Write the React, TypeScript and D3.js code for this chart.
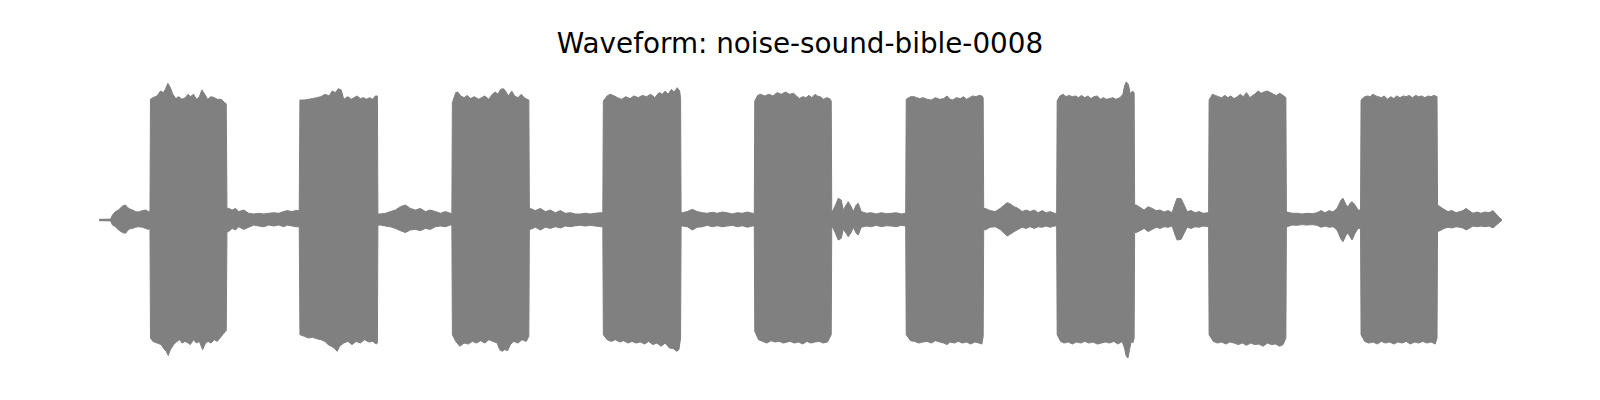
import React from "react";
import * as d3 from "d3";

const chartTitle = "Waveform: noise-sound-bible-0008";

// Amplitude envelope of the recording: [time (s), peak amplitude]
const upperEnvelope: [number, number][] = [
  [0.0, 0.005], [0.11, 0.006], [0.13, 0.036], [0.16, 0.06], [0.19, 0.071], [0.23, 0.1], [0.26, 0.107], [0.28, 0.09], [0.3, 0.08], [0.33, 0.071], [0.36, 0.06], [0.39, 0.057], [0.43, 0.067], [0.46, 0.071], [0.49, 0.06], [0.505, 0.06],
  [0.51, 0.862], [0.534, 0.874], [0.576, 0.886], [0.609, 0.921], [0.638, 0.91], [0.659, 0.933], [0.684, 0.976], [0.709, 0.945], [0.734, 0.898], [0.763, 0.867], [0.792, 0.881], [0.825, 0.862], [0.858, 0.874], [0.887, 0.898], [0.908, 0.881], [0.941, 0.898], [0.97, 0.862], [0.999, 0.881], [1.024, 0.929], [1.053, 0.898], [1.082, 0.862], [1.115, 0.881], [1.149, 0.874], [1.178, 0.862], [1.219, 0.862], [1.252, 0.838], [1.268, 0.83],
  [1.275, 0.083], [1.293, 0.083], [1.327, 0.071], [1.36, 0.083], [1.393, 0.06], [1.443, 0.071], [1.493, 0.048], [1.543, 0.043], [1.593, 0.048], [1.643, 0.043], [1.693, 0.048], [1.743, 0.052], [1.793, 0.048], [1.843, 0.06], [1.877, 0.067], [1.927, 0.06], [1.96, 0.067], [1.998, 0.067],
  [2.005, 0.857], [2.049, 0.857], [2.09, 0.862], [2.132, 0.867], [2.173, 0.874], [2.215, 0.881], [2.256, 0.898], [2.298, 0.886], [2.327, 0.921], [2.36, 0.91], [2.389, 0.938], [2.418, 0.929], [2.443, 0.862], [2.485, 0.881], [2.518, 0.862], [2.547, 0.874], [2.576, 0.886], [2.609, 0.867], [2.642, 0.874], [2.671, 0.862], [2.7, 0.874], [2.734, 0.862], [2.759, 0.886], [2.78, 0.886],
  [2.785, 0.043], [2.81, 0.043], [2.86, 0.048], [2.91, 0.06], [2.96, 0.071], [3.01, 0.095], [3.06, 0.107], [3.11, 0.083], [3.16, 0.071], [3.21, 0.083], [3.26, 0.06], [3.31, 0.071], [3.36, 0.06], [3.41, 0.048], [3.46, 0.06], [3.51, 0.048], [3.525, 0.048],
  [3.53, 0.838], [3.564, 0.91], [3.584, 0.914], [3.613, 0.886], [3.647, 0.874], [3.68, 0.89], [3.709, 0.867], [3.75, 0.881], [3.792, 0.862], [3.821, 0.874], [3.854, 0.886], [3.895, 0.862], [3.929, 0.898], [3.958, 0.914], [3.987, 0.898], [4.012, 0.933], [4.041, 0.938], [4.061, 0.921], [4.09, 0.886], [4.124, 0.921], [4.153, 0.886], [4.186, 0.874], [4.219, 0.898], [4.248, 0.874], [4.277, 0.862], [4.295, 0.857],
  [4.3, 0.083], [4.31, 0.083], [4.36, 0.067], [4.41, 0.083], [4.46, 0.06], [4.51, 0.071], [4.56, 0.052], [4.61, 0.067], [4.66, 0.048], [4.71, 0.052], [4.76, 0.043], [4.81, 0.043], [4.86, 0.048], [4.91, 0.043], [4.96, 0.048], [5.01, 0.052], [5.035, 0.052],
  [5.04, 0.85], [5.078, 0.886], [5.107, 0.898], [5.14, 0.89], [5.182, 0.874], [5.223, 0.862], [5.265, 0.881], [5.306, 0.867], [5.348, 0.886], [5.389, 0.874], [5.431, 0.89], [5.472, 0.881], [5.514, 0.898], [5.555, 0.874], [5.597, 0.91], [5.63, 0.898], [5.659, 0.921], [5.688, 0.898], [5.721, 0.933], [5.75, 0.914], [5.779, 0.945], [5.804, 0.921], [5.813, 0.862],
  [5.818, 0.052], [5.83, 0.052], [5.88, 0.06], [5.93, 0.076], [5.98, 0.06], [6.03, 0.052], [6.08, 0.048], [6.13, 0.055], [6.18, 0.048], [6.23, 0.057], [6.28, 0.052], [6.33, 0.043], [6.38, 0.052], [6.43, 0.048], [6.48, 0.057], [6.53, 0.048], [6.55, 0.048],
  [6.555, 0.85], [6.584, 0.89], [6.613, 0.898], [6.655, 0.886], [6.696, 0.898], [6.738, 0.886], [6.779, 0.91], [6.821, 0.898], [6.862, 0.914], [6.904, 0.898], [6.943, 0.905], [6.972, 0.886], [7.001, 0.867], [7.034, 0.881], [7.068, 0.874], [7.097, 0.89], [7.126, 0.874], [7.159, 0.898], [7.18, 0.886], [7.209, 0.881], [7.242, 0.862], [7.275, 0.874], [7.304, 0.867], [7.32, 0.85],
  [7.325, 0.06], [7.34, 0.071], [7.37, 0.119], [7.39, 0.155], [7.42, 0.143], [7.44, 0.071], [7.47, 0.107], [7.49, 0.131], [7.52, 0.095], [7.54, 0.06], [7.57, 0.107], [7.59, 0.119], [7.62, 0.06], [7.67, 0.048], [7.72, 0.052], [7.77, 0.043], [7.82, 0.052], [7.87, 0.045], [7.92, 0.048], [7.97, 0.052], [8.02, 0.043], [8.065, 0.048],
  [8.07, 0.862], [8.113, 0.881], [8.147, 0.881], [8.176, 0.874], [8.205, 0.867], [8.238, 0.874], [8.279, 0.862], [8.321, 0.857], [8.362, 0.874], [8.404, 0.862], [8.445, 0.867], [8.478, 0.886], [8.508, 0.862], [8.537, 0.857], [8.57, 0.874], [8.611, 0.867], [8.644, 0.881], [8.673, 0.862], [8.703, 0.874], [8.736, 0.886], [8.769, 0.881], [8.798, 0.89], [8.827, 0.886], [8.84, 0.874],
  [8.845, 0.083], [8.86, 0.083], [8.91, 0.067], [8.96, 0.06], [9.01, 0.083], [9.05, 0.107], [9.08, 0.124], [9.11, 0.115], [9.15, 0.095], [9.19, 0.083], [9.23, 0.06], [9.27, 0.071], [9.31, 0.06], [9.35, 0.071], [9.39, 0.052], [9.43, 0.067], [9.47, 0.052], [9.51, 0.06], [9.55, 0.048], [9.575, 0.048],
  [9.58, 0.85], [9.607, 0.886], [9.64, 0.898], [9.669, 0.881], [9.698, 0.89], [9.732, 0.881], [9.765, 0.886], [9.794, 0.874], [9.823, 0.89], [9.856, 0.874], [9.889, 0.886], [9.918, 0.867], [9.947, 0.881], [9.981, 0.886], [10.014, 0.862], [10.043, 0.874], [10.072, 0.862], [10.105, 0.867], [10.138, 0.874], [10.167, 0.862], [10.209, 0.874], [10.238, 0.898], [10.254, 0.957], [10.271, 0.986], [10.292, 0.969], [10.312, 0.898], [10.333, 0.921], [10.35, 0.91],
  [10.355, 0.107], [10.37, 0.107], [10.41, 0.09], [10.45, 0.071], [10.49, 0.095], [10.53, 0.083], [10.57, 0.067], [10.61, 0.071], [10.65, 0.057], [10.69, 0.067], [10.73, 0.052], [10.76, 0.119], [10.78, 0.155], [10.82, 0.152], [10.85, 0.107], [10.88, 0.06], [10.92, 0.067], [10.96, 0.052], [11.0, 0.06], [11.04, 0.048], [11.095, 0.052],
  [11.1, 0.857], [11.134, 0.898], [11.163, 0.89], [11.192, 0.881], [11.225, 0.874], [11.259, 0.89], [11.288, 0.874], [11.317, 0.886], [11.35, 0.867], [11.383, 0.881], [11.412, 0.898], [11.441, 0.881], [11.474, 0.91], [11.508, 0.874], [11.537, 0.89], [11.566, 0.905], [11.591, 0.921], [11.62, 0.905], [11.649, 0.914], [11.682, 0.921], [11.715, 0.91], [11.744, 0.898], [11.773, 0.89], [11.806, 0.905], [11.84, 0.89], [11.868, 0.874],
  [11.873, 0.057], [11.88, 0.057], [11.93, 0.048], [11.98, 0.048], [12.03, 0.043], [12.08, 0.048], [12.13, 0.045], [12.18, 0.052], [12.22, 0.067], [12.26, 0.052], [12.3, 0.067], [12.34, 0.057], [12.38, 0.083], [12.42, 0.143], [12.44, 0.155], [12.47, 0.107], [12.49, 0.095], [12.51, 0.119], [12.53, 0.131], [12.56, 0.107], [12.59, 0.071], [12.615, 0.071],
  [12.62, 0.857], [12.657, 0.881], [12.686, 0.886], [12.711, 0.881], [12.74, 0.898], [12.769, 0.886], [12.794, 0.881], [12.823, 0.874], [12.852, 0.886], [12.885, 0.862], [12.918, 0.881], [12.947, 0.867], [12.976, 0.886], [13.01, 0.874], [13.043, 0.886], [13.072, 0.881], [13.101, 0.89], [13.134, 0.874], [13.167, 0.89], [13.196, 0.881], [13.225, 0.886], [13.259, 0.874], [13.292, 0.886], [13.321, 0.881], [13.35, 0.89], [13.38, 0.881],
  [13.385, 0.107], [13.41, 0.095], [13.45, 0.076], [13.49, 0.06], [13.53, 0.067], [13.57, 0.052], [13.61, 0.06], [13.64, 0.067], [13.67, 0.083], [13.7, 0.067], [13.74, 0.048], [13.78, 0.057], [13.82, 0.048], [13.86, 0.057], [13.9, 0.052], [13.94, 0.067], [13.97, 0.043], [14.0, 0.019], [14.025, 0.005],
];

const lowerEnvelope: [number, number][] = [
  [0.0, -0.005], [0.11, -0.006], [0.13, -0.036], [0.16, -0.048], [0.19, -0.071], [0.23, -0.09], [0.26, -0.095], [0.28, -0.076], [0.3, -0.064], [0.33, -0.06], [0.36, -0.052], [0.39, -0.048], [0.43, -0.052], [0.46, -0.06], [0.49, -0.067], [0.505, -0.06],
  [0.51, -0.843], [0.534, -0.867], [0.576, -0.879], [0.617, -0.89], [0.638, -0.914], [0.667, -0.938], [0.688, -0.967], [0.709, -0.926], [0.742, -0.89], [0.775, -0.867], [0.804, -0.855], [0.825, -0.879], [0.858, -0.867], [0.887, -0.879], [0.908, -0.89], [0.941, -0.855], [0.97, -0.879], [0.999, -0.867], [1.032, -0.926], [1.061, -0.879], [1.086, -0.867], [1.115, -0.879], [1.149, -0.855], [1.178, -0.867], [1.219, -0.831], [1.26, -0.795], [1.268, -0.79],
  [1.275, -0.083], [1.293, -0.083], [1.327, -0.06], [1.36, -0.071], [1.393, -0.048], [1.443, -0.067], [1.493, -0.052], [1.543, -0.036], [1.593, -0.043], [1.643, -0.048], [1.693, -0.036], [1.743, -0.043], [1.793, -0.036], [1.843, -0.048], [1.877, -0.036], [1.927, -0.043], [1.96, -0.048], [1.998, -0.048],
  [2.005, -0.819], [2.049, -0.831], [2.09, -0.843], [2.132, -0.838], [2.173, -0.848], [2.215, -0.855], [2.256, -0.867], [2.286, -0.89], [2.319, -0.902], [2.348, -0.914], [2.377, -0.938], [2.402, -0.902], [2.443, -0.879], [2.485, -0.867], [2.526, -0.89], [2.568, -0.867], [2.609, -0.879], [2.651, -0.855], [2.692, -0.871], [2.734, -0.867], [2.767, -0.886], [2.78, -0.879],
  [2.785, -0.036], [2.81, -0.036], [2.86, -0.043], [2.91, -0.048], [2.96, -0.06], [3.01, -0.076], [3.06, -0.09], [3.11, -0.071], [3.16, -0.067], [3.21, -0.076], [3.26, -0.06], [3.31, -0.067], [3.36, -0.048], [3.41, -0.043], [3.46, -0.048], [3.51, -0.036], [3.525, -0.036],
  [3.53, -0.819], [3.564, -0.867], [3.605, -0.902], [3.647, -0.879], [3.688, -0.886], [3.73, -0.867], [3.771, -0.879], [3.812, -0.862], [3.854, -0.879], [3.895, -0.855], [3.937, -0.867], [3.978, -0.879], [4.003, -0.926], [4.028, -0.938], [4.053, -0.926], [4.082, -0.933], [4.111, -0.89], [4.144, -0.867], [4.186, -0.879], [4.227, -0.855], [4.269, -0.867], [4.295, -0.831],
  [4.3, -0.067], [4.31, -0.067], [4.36, -0.052], [4.41, -0.071], [4.46, -0.052], [4.51, -0.06], [4.56, -0.048], [4.61, -0.057], [4.66, -0.043], [4.71, -0.048], [4.76, -0.041], [4.81, -0.038], [4.86, -0.043], [4.91, -0.038], [4.96, -0.043], [5.01, -0.048], [5.035, -0.048],
  [5.04, -0.819], [5.078, -0.855], [5.12, -0.867], [5.161, -0.855], [5.203, -0.871], [5.244, -0.862], [5.286, -0.879], [5.327, -0.867], [5.369, -0.879], [5.41, -0.871], [5.452, -0.886], [5.493, -0.867], [5.535, -0.89], [5.576, -0.879], [5.618, -0.902], [5.659, -0.879], [5.701, -0.914], [5.742, -0.919], [5.771, -0.938], [5.796, -0.926], [5.813, -0.843],
  [5.818, -0.043], [5.83, -0.043], [5.88, -0.048], [5.93, -0.071], [5.98, -0.052], [6.03, -0.048], [6.08, -0.038], [6.13, -0.048], [6.18, -0.041], [6.23, -0.048], [6.28, -0.043], [6.33, -0.038], [6.38, -0.048], [6.43, -0.041], [6.48, -0.052], [6.53, -0.043], [6.55, -0.043],
  [6.555, -0.795], [6.593, -0.855], [6.634, -0.867], [6.676, -0.879], [6.717, -0.862], [6.759, -0.871], [6.8, -0.867], [6.842, -0.879], [6.883, -0.871], [6.91, -0.867], [6.951, -0.879], [6.993, -0.871], [7.034, -0.886], [7.076, -0.867], [7.117, -0.879], [7.159, -0.871], [7.2, -0.867], [7.242, -0.879], [7.283, -0.871], [7.32, -0.819],
  [7.325, -0.048], [7.34, -0.06], [7.37, -0.107], [7.39, -0.143], [7.42, -0.131], [7.44, -0.067], [7.47, -0.095], [7.49, -0.119], [7.52, -0.09], [7.54, -0.052], [7.57, -0.095], [7.59, -0.107], [7.62, -0.052], [7.67, -0.043], [7.72, -0.048], [7.77, -0.038], [7.82, -0.048], [7.87, -0.041], [7.92, -0.043], [7.97, -0.048], [8.02, -0.038], [8.065, -0.043],
  [8.07, -0.819], [8.113, -0.862], [8.155, -0.867], [8.196, -0.879], [8.238, -0.871], [8.279, -0.867], [8.321, -0.879], [8.362, -0.862], [8.404, -0.871], [8.445, -0.879], [8.478, -0.89], [8.508, -0.871], [8.549, -0.879], [8.59, -0.867], [8.632, -0.879], [8.673, -0.871], [8.715, -0.886], [8.756, -0.871], [8.798, -0.879], [8.827, -0.886], [8.84, -0.831],
  [8.845, -0.067], [8.86, -0.071], [8.91, -0.052], [8.96, -0.048], [9.01, -0.067], [9.05, -0.095], [9.08, -0.114], [9.11, -0.102], [9.15, -0.083], [9.19, -0.067], [9.23, -0.052], [9.27, -0.06], [9.31, -0.048], [9.35, -0.06], [9.39, -0.048], [9.43, -0.052], [9.47, -0.043], [9.51, -0.052], [9.55, -0.043], [9.575, -0.043],
  [9.58, -0.819], [9.615, -0.867], [9.649, -0.879], [9.69, -0.871], [9.732, -0.886], [9.773, -0.871], [9.815, -0.879], [9.856, -0.867], [9.898, -0.879], [9.939, -0.871], [9.981, -0.886], [10.022, -0.879], [10.064, -0.871], [10.105, -0.879], [10.147, -0.867], [10.188, -0.886], [10.23, -0.867], [10.254, -0.914], [10.271, -0.974], [10.288, -0.986], [10.304, -0.926], [10.321, -0.867], [10.337, -0.879], [10.35, -0.843],
  [10.355, -0.09], [10.37, -0.09], [10.41, -0.076], [10.45, -0.06], [10.49, -0.083], [10.53, -0.067], [10.57, -0.052], [10.61, -0.06], [10.65, -0.048], [10.69, -0.052], [10.73, -0.043], [10.76, -0.107], [10.78, -0.143], [10.82, -0.138], [10.85, -0.095], [10.88, -0.052], [10.92, -0.06], [10.96, -0.048], [11.0, -0.052], [11.04, -0.043], [11.095, -0.048],
  [11.1, -0.819], [11.142, -0.867], [11.184, -0.879], [11.225, -0.871], [11.267, -0.886], [11.308, -0.871], [11.35, -0.879], [11.391, -0.89], [11.433, -0.879], [11.474, -0.895], [11.516, -0.879], [11.557, -0.89], [11.599, -0.886], [11.64, -0.902], [11.682, -0.879], [11.723, -0.89], [11.765, -0.886], [11.806, -0.902], [11.84, -0.89], [11.868, -0.843],
  [11.873, -0.048], [11.88, -0.048], [11.93, -0.036], [11.98, -0.038], [12.03, -0.033], [12.08, -0.036], [12.13, -0.033], [12.18, -0.038], [12.22, -0.052], [12.26, -0.043], [12.3, -0.052], [12.34, -0.048], [12.38, -0.071], [12.42, -0.138], [12.44, -0.155], [12.47, -0.107], [12.49, -0.095], [12.51, -0.119], [12.53, -0.143], [12.56, -0.095], [12.59, -0.06], [12.615, -0.06],
  [12.62, -0.819], [12.657, -0.867], [12.698, -0.879], [12.74, -0.871], [12.781, -0.886], [12.823, -0.867], [12.864, -0.879], [12.906, -0.871], [12.947, -0.886], [12.989, -0.871], [13.03, -0.879], [13.072, -0.867], [13.113, -0.886], [13.155, -0.871], [13.196, -0.879], [13.238, -0.867], [13.279, -0.879], [13.321, -0.871], [13.362, -0.886], [13.38, -0.843],
  [13.385, -0.083], [13.41, -0.076], [13.45, -0.06], [13.49, -0.052], [13.53, -0.057], [13.57, -0.048], [13.61, -0.052], [13.64, -0.057], [13.67, -0.071], [13.7, -0.06], [13.74, -0.043], [13.78, -0.048], [13.82, -0.043], [13.86, -0.048], [13.9, -0.043], [13.94, -0.057], [13.97, -0.038], [14.0, -0.019], [14.025, -0.005],
];

const timeDomain: [number, number] = [0, 14.025];
const ampDomain: [number, number] = [-1, 1];

export default function App() {
  const width = 1600;
  const height = 400;
  const x = d3.scaleLinear().domain(timeDomain).range([99.5, 1501.5]);
  const y = d3.scaleLinear().domain(ampDomain).range([360, 80]);

  const area = d3
    .area<[number, number]>()
    .x((d) => x(d[0]))
    .y0(() => y(0))
    .y1((d) => y(d[1]))
    .curve(d3.curveLinear);

  const grey = "#808080";

  return (
    <svg
      width={width}
      height={height}
      style={{ position: "absolute", left: 0, top: 0, background: "#fff" }}
    >
      <rect x={0} y={0} width={width} height={height} fill="#ffffff" />
      <path d={area(upperEnvelope) || ""} fill={grey} stroke={grey} strokeWidth={1} strokeLinejoin="round" />
      <path d={area(lowerEnvelope) || ""} fill={grey} stroke={grey} strokeWidth={1} strokeLinejoin="round" />
      <text
        x={800}
        y={52.5}
        textAnchor="middle"
        fontFamily="'DejaVu Sans', sans-serif"
        fontSize={27.8}
        fill="#000000"
      >
        {chartTitle}
      </text>
    </svg>
  );
}
